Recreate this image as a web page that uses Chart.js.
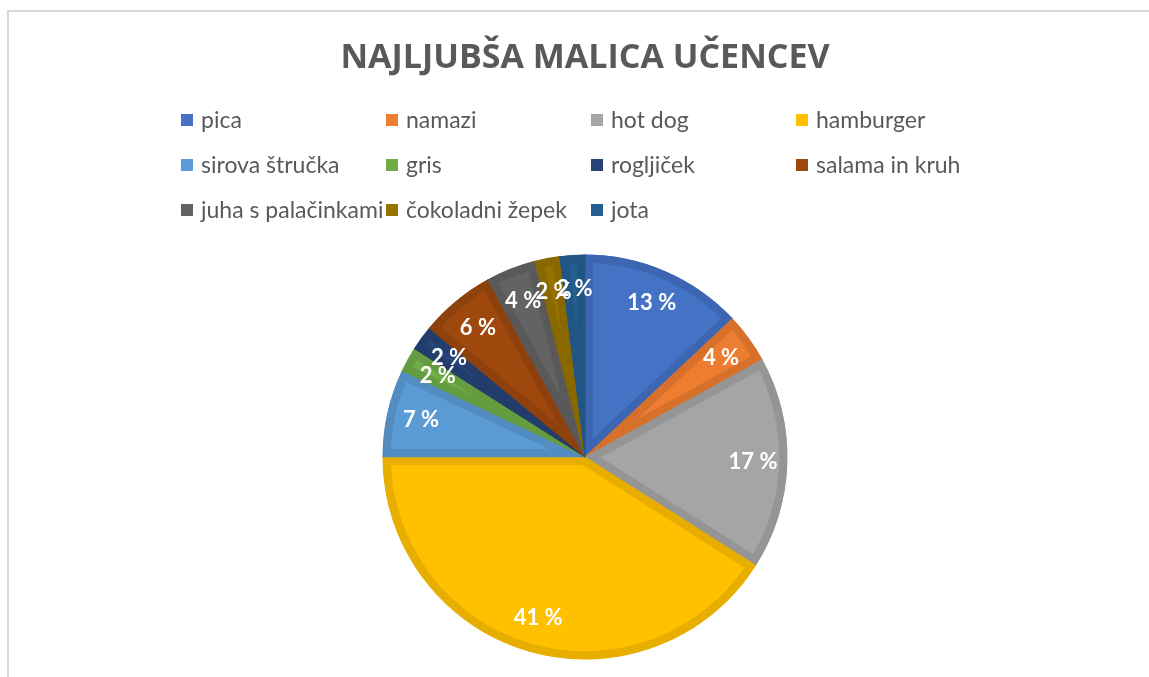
<!DOCTYPE html>
<html>
<head>
<meta charset="utf-8">
<script src="https://cdn.jsdelivr.net/npm/chart.js@4.4.1/dist/chart.umd.min.js"></script>
<style>
  html, body { margin: 0; padding: 0; background: #ffffff; }
  #frame { position: absolute; left: 7px; top: 10px; width: 1200px; height: 700px;
           border-left: 2px solid #d9d9d9; border-top: 2px solid #d9d9d9; }
  #wrap { position: absolute; left: 0; top: 0; width: 1149px; height: 677px; }
</style>
</head>
<body>
<div id="frame"></div>
<div id="wrap"><canvas id="c" width="1149" height="677"></canvas></div>
<script>
const chartTitle = "NAJLJUBŠA MALICA UČENCEV";
const categories = ["pica", "namazi", "hot dog", "hamburger", "sirova štručka", "gris",
  "rogljiček", "salama in kruh", "juha s palačinkami", "čokoladni žepek", "jota"];
const shares = [13, 4, 17, 41, 7, 2, 2, 6, 4, 2, 2];
const fillColors = ["#4472C4", "#ED7D31", "#A5A5A5", "#FFC000", "#5B9BD5", "#70AD47",
  "#264478", "#9E480E", "#636363", "#997300", "#255E91"];
const edgeColors = ["#3C66B2", "#D6702A", "#959595", "#E7AE00", "#528CC1", "#659C40",
  "#223D6C", "#8E410C", "#595959", "#8A6800", "#215583"];

const pctLabels = {
  id: "pctLabels",
  afterDatasetsDraw(chart) {
    const ctx = chart.ctx;
    const meta = chart.getDatasetMeta(0);
    const data = chart.data.datasets[0].data;
    const total = data.reduce((a, b) => a + b, 0);
    ctx.save();
    ctx.font = "bold 22px Lato";
    ctx.fillStyle = "#ffffff";
    ctx.textAlign = "center";
    ctx.textBaseline = "middle";
    meta.data.forEach((arc, i) => {
      const p = arc.getProps(["x", "y", "startAngle", "endAngle", "outerRadius"], true);
      const mid = (p.startAngle + p.endAngle) / 2;
      const r = p.outerRadius * 0.83;
      const pct = Math.round(data[i] / total * 100);
      ctx.fillText(pct + " %", p.x + Math.cos(mid) * r, p.y + Math.sin(mid) * r);
    });
    ctx.restore();
  }
};

const gridLegend = {
  id: "gridLegend",
  afterDraw(chart) {
    const ctx = chart.ctx;
    const ds = chart.data.datasets[0];
    const cols = 4, colW = 205, rowH = 45, x0 = 181, y0 = 120, box = 12;
    ctx.save();
    ctx.font = "23px Lato";
    ctx.textBaseline = "middle";
    ctx.textAlign = "left";
    chart.data.labels.forEach((lab, i) => {
      const cx = x0 + (i % cols) * colW;
      const cy = y0 + Math.floor(i / cols) * rowH;
      ctx.fillStyle = ds.backgroundColor[i];
      ctx.fillRect(cx, cy - box / 2, box, box);
      ctx.fillStyle = "#595959";
      ctx.fillText(lab, cx + box + 8, cy + 1);
    });
    ctx.restore();
  }
};

new Chart(document.getElementById("c"), {
  type: "pie",
  data: {
    labels: categories,
    datasets: [{
      data: shares,
      backgroundColor: fillColors,
      borderColor: edgeColors,
      borderWidth: 8,
      borderAlign: "inner",
      borderJoinStyle: "miter"
    }]
  },
  options: {
    responsive: false,
    animation: false,
    events: [],
    layout: { padding: { top: 0, left: 21, right: 0, bottom: 17.5 } },
    plugins: {
      legend: { display: false },
      tooltip: { enabled: false },
      title: {
        display: true,
        text: chartTitle,
        color: "#595959",
        font: { family: "'Open Sans'", size: 34, weight: "bold", lineHeight: 1.2 },
        padding: { top: 38, bottom: 175.7 }
      }
    }
  },
  plugins: [pctLabels, gridLegend]
});
</script>
</body>
</html>
